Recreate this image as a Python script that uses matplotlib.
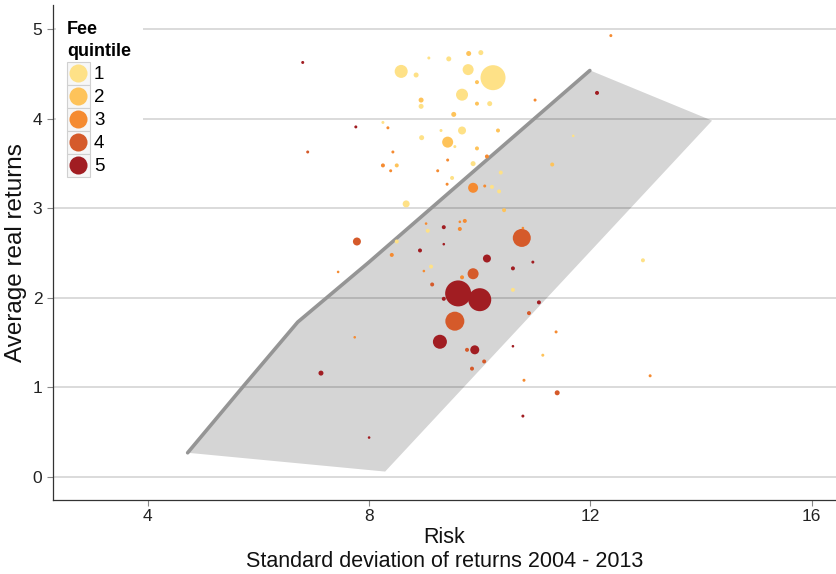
import matplotlib
matplotlib.use('Agg')
import matplotlib.pyplot as plt
from matplotlib.patches import Rectangle, Polygon
import numpy as np

plt.rcParams['font.family'] = ['Liberation Sans', 'DejaVu Sans']

# fund risk (std dev), average real return, fee quintile, marker radius (px)
risk = [6.80, 8.58, 8.85, 9.08, 9.44, 9.80, 10.02, 9.79, 10.24, 9.95,
        9.68, 8.94, 8.94, 9.95, 10.18, 11.00, 9.53, 7.76, 8.25, 8.34,
        9.30, 9.68, 10.33, 8.95, 9.42, 9.55, 9.95, 6.89, 8.43, 10.13,
        9.88, 8.25, 8.50, 8.39, 9.42, 9.24, 9.50, 10.38, 9.41, 9.88,
        10.09, 10.22, 10.35, 12.37, 12.12, 11.69, 11.31, 10.44, 10.76, 10.78,
        10.96, 10.60, 10.60, 12.95, 8.67, 9.03, 9.35, 9.64, 9.73, 9.64,
        9.06, 7.78, 8.50, 9.35, 8.92, 8.41, 10.13, 9.12, 8.99, 9.88,
        9.68, 9.14, 9.61, 10.00, 9.35, 11.07, 10.89, 9.55, 7.74, 11.38,
        9.28, 10.60, 9.77, 9.91, 11.14, 10.08, 9.86, 10.80, 13.08, 11.40,
        10.78, 7.44, 7.13, 8.00]
returns = [4.63, 4.53, 4.49, 4.68, 4.67, 4.73, 4.74, 4.55, 4.46, 4.41,
           4.27, 4.21, 4.14, 4.17, 4.17, 4.21, 4.05, 3.91, 3.96, 3.90,
           3.87, 3.87, 3.87, 3.79, 3.74, 3.69, 3.67, 3.63, 3.63, 3.58,
           3.50, 3.48, 3.48, 3.42, 3.54, 3.42, 3.34, 3.40, 3.27, 3.23,
           3.25, 3.24, 3.19, 4.93, 4.29, 3.81, 3.49, 2.98, 2.67, 2.78,
           2.40, 2.33, 2.09, 2.42, 3.05, 2.83, 2.79, 2.85, 2.86, 2.77,
           2.75, 2.63, 2.63, 2.60, 2.53, 2.48, 2.44, 2.35, 2.30, 2.27,
           2.23, 2.15, 2.05, 1.98, 1.99, 1.95, 1.83, 1.74, 1.56, 1.62,
           1.51, 1.46, 1.42, 1.42, 1.36, 1.29, 1.21, 1.08, 1.13, 0.94,
           0.68, 2.29, 1.16, 0.44]
quintile = [5, 1, 1, 1, 1, 2, 1, 1, 1, 2,
            1, 2, 1, 2, 1, 3, 2, 5, 1, 3,
            1, 1, 2, 1, 2, 1, 2, 4, 3, 3,
            1, 3, 2, 3, 3, 3, 1, 1, 3, 3,
            3, 1, 1, 3, 5, 1, 2, 2, 4, 3,
            5, 5, 1, 1, 1, 3, 5, 3, 3, 3,
            1, 4, 1, 5, 5, 3, 5, 1, 3, 4,
            3, 4, 5, 5, 5, 5, 4, 4, 3, 3,
            5, 5, 4, 5, 2, 4, 4, 3, 3, 4,
            5, 3, 5, 5]
radius = [1, 6, 2, 1, 2, 2, 2, 5, 12, 1.5,
          5.5, 2, 2, 1.5, 2, 1, 2, 1, 1, 1,
          1, 3.5, 1.5, 2, 5, 1, 1.5, 1, 1, 1.5,
          2, 1.5, 1.5, 1, 1, 1, 1.5, 1.5, 1, 4.5,
          1, 1.5, 1.5, 1, 1.5, 0.8, 1.5, 1.5, 8.5, 0.8,
          1, 1.5, 1.5, 1.5, 3, 0.8, 1.5, 0.8, 1.5, 1.5,
          1.5, 3.5, 1.5, 0.8, 1.5, 1.5, 3.5, 1.5, 0.8, 5,
          1.5, 1.5, 12.5, 11, 1.5, 1.5, 1.5, 9, 0.8, 1,
          6.5, 0.8, 1.5, 4, 1, 1.5, 1.5, 1, 1, 2,
          1, 0.8, 2, 0.8]

# shaded region and its upper edge
region_x = [4.72, 8.29, 14.2, 12.0, 7.98, 6.71, 5.75]
region_y = [0.27, 0.06, 3.98, 4.54, 2.39, 1.73, 1.03]
edge_x = [4.72, 5.75, 6.71, 7.98, 11.99]
edge_y = [0.27, 1.03, 1.73, 2.39, 4.54]

quintile_labels = ['1', '2', '3', '4', '5']
quintile_colors = ['#FEE187', '#FEC35A', '#F58B31', '#D55A2A', '#A11D22']

fig = plt.figure(figsize=(8.36, 5.74), dpi=100)
ax = fig.add_axes([0.063, 0.129, 0.937, 0.862])

for y in range(6):
    ax.axhline(y, color='#D4D4D4', lw=1.2, zorder=0)

ax.add_patch(Polygon(list(zip(region_x, region_y)), closed=True,
                     facecolor='black', alpha=0.165, edgecolor='none', zorder=1))
ax.plot(edge_x, edge_y, color='#959595', lw=2.6, solid_capstyle='round', zorder=2)

colors = [quintile_colors[q - 1] for q in quintile]
sizes = [(1.44 * (r + 0.5)) ** 2 for r in radius]
order = np.argsort(sizes)[::-1]
ax.scatter(np.array(risk)[order], np.array(returns)[order],
           s=np.array(sizes)[order], c=np.array(colors)[order],
           edgecolors='none', zorder=3)

ax.set_xlim(2.28, 16.44)
ax.set_ylim(-0.257, 5.27)
ax.set_xticks([4, 8, 12, 16])
ax.set_yticks([0, 1, 2, 3, 4, 5])
ax.tick_params(labelsize=12.5, labelcolor='#222222', length=4, width=0.8, color='#888888')
ax.tick_params(axis='x', pad=2.5)
for s in ['top', 'right']:
    ax.spines[s].set_visible(False)
for s in ['left', 'bottom']:
    ax.spines[s].set_color('#333333')
    ax.spines[s].set_linewidth(0.9)

ax.set_ylabel('Average real returns', fontsize=17.5, color='#111111', labelpad=4)
ax.set_xlabel('Risk\nStandard deviation of returns 2004 - 2013', fontsize=15.5,
              color='#111111', linespacing=1.2)
ax.xaxis.set_label_coords(0.5, -0.054)

# legend drawn by hand in pixel coordinates
W, H = 836.0, 574.0
def fx(px):
    return px / W
def fy(py):
    return 1 - py / H

fig.patches.append(Rectangle((fx(56), fy(180)), (143 - 56) / W, (180 - 10) / H,
                             transform=fig.transFigure, facecolor='white',
                             edgecolor='none', zorder=5))
fig.text(fx(67), fy(29), 'Fee', fontsize=13, fontweight='bold', va='center', zorder=6)
fig.text(fx(67), fy(51), 'quintile', fontsize=13, fontweight='bold', va='center', zorder=6)
for i, (lab, col) in enumerate(zip(quintile_labels, quintile_colors)):
    cy = 73 + 23 * i
    fig.patches.append(Rectangle((fx(66.5), fy(cy + 11.5)), 23 / W, 23 / H,
                                 transform=fig.transFigure, facecolor='#F7F7F7',
                                 edgecolor='#D0D0D0', lw=0.8, zorder=6))
    fig.lines.append(plt.Line2D([fx(78)], [fy(cy)], transform=fig.transFigure,
                                marker='o', markersize=13, color=col,
                                markeredgecolor='none', zorder=7))
    fig.text(fx(94), fy(cy + 1), lab, fontsize=13.5, va='center', zorder=7)

fig.savefig('out.png', dpi=100)
